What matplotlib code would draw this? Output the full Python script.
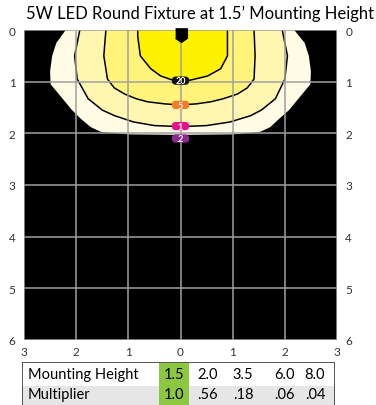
import matplotlib
matplotlib.use("Agg")
import matplotlib.pyplot as plt
from matplotlib.patches import Rectangle, FancyBboxPatch

plt.rcParams['font.family'] = ['Lato', 'DejaVu Sans']

# isolux contours (footcandles): depth below fixture (ft)
# and horizontal offset left / right of the fixture (ft)
levels = [".2", "1", "5", "20"]
depth_02 = [0.0, 0.25, 0.5, 0.8, 1.05, 1.33, 1.55, 1.72, 1.88, 1.97, 2.02, 2.03]
left_02 = [2.2, 2.38, 2.46, 2.5, 2.49, 2.26, 2.08, 1.91, 1.72, 1.53, 1.0, 0.0]
right_02 = [2.18, 2.38, 2.46, 2.5, 2.49, 2.26, 2.08, 1.89, 1.72, 1.53, 1.0, 0.0]

depth_1 = [0.0, 0.5, 0.95, 1.33, 1.55, 1.66, 1.78, 1.85, 1.87]
left_1 = [1.93, 2.03, 1.98, 1.77, 1.5, 1.26, 0.9, 0.5, 0.0]
right_1 = [1.95, 2.05, 2.0, 1.82, 1.55, 1.34, 0.95, 0.5, 0.0]

depth_5 = [0.0, 0.5, 0.95, 1.12, 1.24, 1.33, 1.39, 1.43, 1.45]
left_5 = [1.43, 1.47, 1.4, 1.27, 1.07, 0.85, 0.63, 0.3, 0.0]
right_5 = [1.41, 1.43, 1.41, 1.28, 1.09, 0.82, 0.58, 0.3, 0.0]

depth_20 = [0.0, 0.12, 0.5, 0.75, 0.89, 0.97, 0.98]
left_20 = [0.82, 0.82, 0.77, 0.57, 0.38, 0.15, 0.0]
right_20 = [0.9, 0.9, 0.9, 0.77, 0.52, 0.19, 0.0]

band_colors = ["#FFFBE4", "#FFF7B0", "#FFF37A", "#FFF200"]
label_colors = ["#8B2A8E", "#E8108C", "#F47B2A", "#111111"]
label_depth = [2.1, 1.86, 1.45, 0.98]

# mounting height table
heights = ["1.5", "2.0", "3.5", "6.0", "8.0"]
multipliers = ["1.0", ".56", ".18", ".06", ".04"]

fig = plt.figure(figsize=(3.76, 4.06), dpi=100)
ax = fig.add_axes([24 / 376, 1 - 341 / 406, 313 / 376, 310 / 406])
ax.set_facecolor("black")

contours = [(depth_02, left_02, right_02), (depth_1, left_1, right_1),
            (depth_5, left_5, right_5), (depth_20, left_20, right_20)]
for i, (d, l, r) in enumerate(contours):
    xs = [-v for v in l] + [v for v in r[::-1]]
    ys = list(d) + list(d[::-1])
    ax.fill(xs, ys, color=band_colors[i], zorder=1 + i, lw=0)
    if i > 0:
        ax.plot(xs, ys, color="black", lw=1.1, zorder=1 + i,
                solid_joinstyle="round")

# grid
for gx in range(-3, 4):
    ax.axvline(gx, color="#A0A0A0", lw=1.1, zorder=6)
for gy in range(0, 7):
    ax.axhline(gy, color="#A0A0A0", lw=1.1, zorder=6)

# fixture
ax.plot([0], [0.12], marker=[(-1, 1.3), (1, 1.3), (1, -0.3), (0, -1), (-1, -0.3)],
        color="black", ms=11, zorder=8, clip_on=False)

# contour labels (pill badges)
pw, ph = 0.33, 0.16
for i, lv in enumerate(levels):
    ax.add_patch(FancyBboxPatch((-pw / 2, label_depth[i] - ph / 2), pw, ph,
                                boxstyle="round,pad=0,rounding_size=0.075",
                                fc=label_colors[i], ec="none", zorder=9))
    ax.text(0, label_depth[i] + 0.005, lv, ha="center", va="center", color="white",
            fontsize=6.5, fontweight="bold", zorder=10)

ax.set_xlim(-3, 3)
ax.set_ylim(6, 0)
ax.set_xticks(range(-3, 4))
ax.set_xticklabels([str(abs(v)) for v in range(-3, 4)])
ax.set_yticks(range(0, 7))
ax.tick_params(length=0, labelsize=8.5, colors="#333333", pad=6,
               labelright=True)
ax.tick_params(axis="x", pad=4)
for s in ax.spines.values():
    s.set_visible(False)

fig.text(0.5 + 12 / 376, 1 - 14 / 406, "5W LED Round Fixture at 1.5\u2019 Mounting Height",
         ha="center", va="center", fontsize=12, color="black")

# table
tab = fig.add_axes([22 / 376, -5 / 406, 313 / 376, 48 / 406])
tab.set_xlim(0, 1)
tab.set_ylim(0, 1)
tab.axis("off")
tab.add_patch(Rectangle((0, 0), 1, 0.5, fc="#E6E6E6", ec="none"))
tab.add_patch(Rectangle((0.438, 0), 0.096, 1, fc="#8DC63F", ec="none"))
tab.add_patch(Rectangle((0, 0), 1, 1, fc="none", ec="#555555", lw=1.4))
col_x = [0.486, 0.594, 0.706, 0.840, 0.936]
tab.text(0.019, 0.75, "Mounting Height", ha="left", va="center", fontsize=10.5)
tab.text(0.019, 0.33, "Multiplier", ha="left", va="center", fontsize=10.5)
for cx, h, m in zip(col_x, heights, multipliers):
    tab.text(cx, 0.75, h, ha="center", va="center", fontsize=10.5)
    tab.text(cx, 0.33, m, ha="center", va="center", fontsize=10.5)

fig.savefig("out.png", dpi=100)
